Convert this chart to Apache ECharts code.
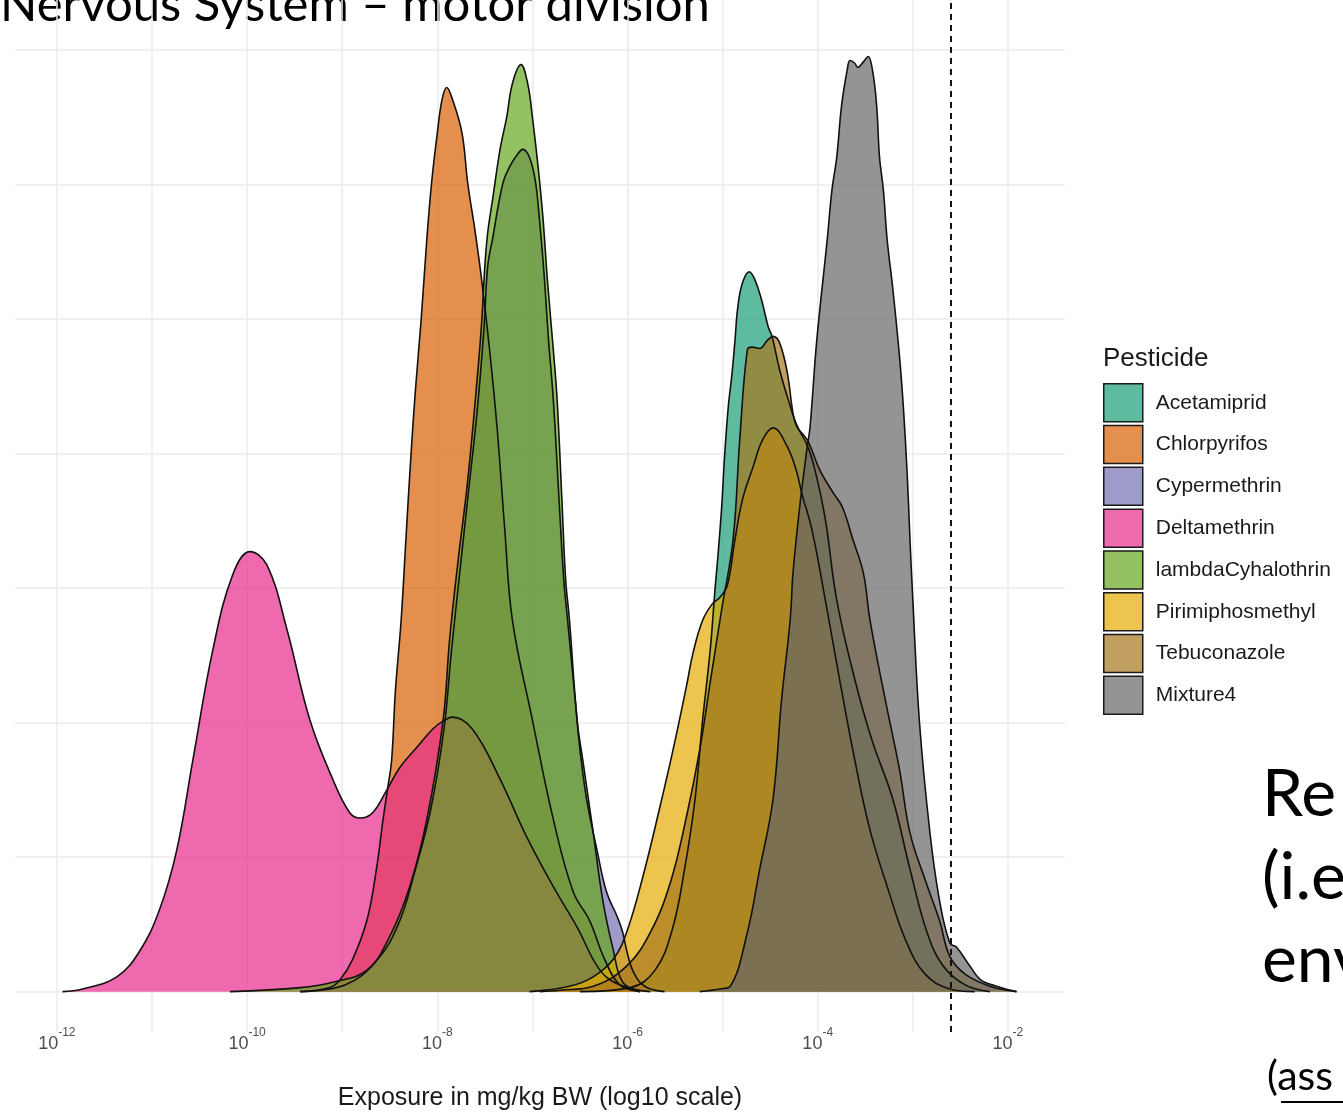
<!DOCTYPE html>
<html>
<head>
<meta charset="utf-8">
<title>Nervous System – motor division</title>
<script src="https://cdn.jsdelivr.net/npm/echarts@6/dist/echarts.min.js"></script>
<style>
html, body { margin: 0; padding: 0; background: #fff; }
#main { width: 1343px; height: 1112px; }
</style>
</head>
<body>
<div id="main"></div>
<script>
// legend / drawing order
var pesticides = ['Acetamiprid', 'Chlorpyrifos', 'Cypermethrin', 'Deltamethrin',
	'lambdaCyhalothrin', 'Pirimiphosmethyl', 'Tebuconazole', 'Mixture4'];

// density curves, [log10 exposure (mg/kg BW), density]
var acetamiprid = [[-6.50,0],[-5.97,0.03],[-5.71,0.16],[-5.53,0.46],[-5.40,0.91],[-5.29,1.43],[-5.21,2.02],[-5.13,2.54],[-5.08,2.99],[-5.05,3.23],[-5.01,3.60],[-4.98,3.97],[-4.94,4.35],[-4.90,4.60],[-4.87,4.84],[-4.84,5.09],[-4.79,5.27],[-4.72,5.35],[-4.66,5.29],[-4.59,5.14],[-4.52,4.94],[-4.48,4.87],[-4.40,4.62],[-4.31,4.40],[-4.22,4.21],[-4.11,4.06],[-4.03,3.88],[-3.92,3.51],[-3.80,2.91],[-3.61,2.32],[-3.43,1.87],[-3.21,1.43],[-3.03,0.91],[-2.85,0.44],[-2.68,0.19],[-2.45,0.05],[-2.19,0]];
var chlorpyrifos = [[-9.44,0],[-9.13,0.03],[-9.02,0.09],[-8.89,0.24],[-8.74,0.53],[-8.64,0.91],[-8.57,1.28],[-8.52,1.52],[-8.48,1.72],[-8.44,2.24],[-8.38,2.76],[-8.33,3.36],[-8.28,3.95],[-8.23,4.47],[-8.17,4.99],[-8.11,5.59],[-8.06,6.01],[-8.00,6.38],[-7.95,6.63],[-7.90,6.72],[-7.84,6.63],[-7.74,6.38],[-7.68,6.01],[-7.60,5.64],[-7.53,5.27],[-7.45,4.77],[-7.37,4.18],[-7.29,3.43],[-7.21,2.76],[-7.00,2.02],[-6.78,1.28],[-6.57,0.74],[-6.40,0.53],[-6.24,0.24],[-6.08,0.05],[-5.87,0]];
var cypermethrin = [[-9.44,0],[-8.97,0.05],[-8.65,0.22],[-8.41,0.50],[-8.23,0.91],[-8.07,1.35],[-7.93,1.95],[-7.85,2.54],[-7.76,3.14],[-7.67,3.73],[-7.58,4.32],[-7.51,4.92],[-7.47,5.39],[-7.42,5.59],[-7.31,6.01],[-7.24,6.13],[-7.16,6.22],[-7.10,6.26],[-7.03,6.20],[-6.97,6.03],[-6.93,5.77],[-6.88,5.36],[-6.83,4.84],[-6.78,4.40],[-6.72,3.66],[-6.67,3.06],[-6.63,2.76],[-6.55,2.17],[-6.50,1.80],[-6.43,1.43],[-6.32,1.05],[-6.22,0.74],[-6.11,0.56],[-6.05,0.44],[-6.01,0.31],[-5.94,0.15],[-5.82,0.04],[-5.61,0]];
var deltamethrin = [[-11.94,0],[-11.73,0.02],[-11.37,0.11],[-11.13,0.30],[-10.92,0.61],[-10.74,1.05],[-10.57,1.72],[-10.36,2.54],[-10.15,3.10],[-9.97,3.27],[-9.79,3.17],[-9.58,2.69],[-9.34,2.02],[-9.10,1.58],[-8.92,1.33],[-8.81,1.29],[-8.68,1.33],[-8.53,1.50],[-8.39,1.67],[-8.21,1.82],[-8.05,1.95],[-7.94,2.01],[-7.84,2.04],[-7.63,1.95],[-7.34,1.58],[-7.06,1.15],[-6.78,0.78],[-6.53,0.48],[-6.29,0.16],[-6.08,0.05],[-5.76,0]];
var lambdaCyhalothrin = [[-10.18,0],[-9.44,0.03],[-9.10,0.07],[-8.74,0.16],[-8.50,0.41],[-8.29,0.78],[-8.11,1.28],[-7.94,2.01],[-7.87,2.62],[-7.78,3.21],[-7.68,3.80],[-7.57,4.64],[-7.53,5.01],[-7.50,5.39],[-7.47,5.64],[-7.42,5.88],[-7.34,6.26],[-7.27,6.50],[-7.21,6.75],[-7.12,6.89],[-7.05,6.75],[-7.00,6.50],[-6.94,6.13],[-6.89,5.76],[-6.84,5.27],[-6.78,4.77],[-6.74,4.40],[-6.69,3.66],[-6.65,3.06],[-6.61,2.76],[-6.53,2.02],[-6.47,1.72],[-6.36,1.18],[-6.26,0.68],[-6.15,0.31],[-6.05,0.07],[-5.87,0]];
var pirimiphosmethyl = [[-7.03,0],[-6.61,0.04],[-6.36,0.11],[-6.15,0.24],[-6.01,0.44],[-5.84,0.85],[-5.66,1.37],[-5.52,1.80],[-5.38,2.27],[-5.31,2.52],[-5.21,2.76],[-5.11,2.88],[-5.03,2.93],[-4.95,3.02],[-4.87,3.36],[-4.79,3.66],[-4.68,3.90],[-4.58,4.10],[-4.47,4.19],[-4.32,4.05],[-4.22,3.86],[-4.17,3.71],[-4.06,3.43],[-3.92,2.91],[-3.77,2.32],[-3.61,1.72],[-3.45,1.20],[-3.26,0.76],[-3.08,0.39],[-2.87,0.13],[-2.61,0.02],[-2.35,0]];
var tebuconazole = [[-6.92,0],[-6.71,0.01],[-6.36,0.04],[-6.01,0.19],[-5.76,0.44],[-5.55,0.81],[-5.38,1.30],[-5.24,1.80],[-5.13,2.30],[-5.01,2.84],[-4.89,3.36],[-4.82,4.10],[-4.74,4.77],[-4.69,4.79],[-4.61,4.78],[-4.53,4.84],[-4.47,4.87],[-4.40,4.82],[-4.32,4.60],[-4.26,4.30],[-4.22,4.20],[-4.11,4.10],[-3.98,3.88],[-3.84,3.71],[-3.74,3.60],[-3.63,3.36],[-3.52,3.11],[-3.45,2.76],[-3.29,2.17],[-3.14,1.65],[-3.03,1.18],[-2.87,0.83],[-2.72,0.53],[-2.61,0.26],[-2.45,0.13],[-2.19,0.04],[-1.91,0]];
var mixture4 = [[-5.24,0],[-5.03,0.02],[-4.92,0.04],[-4.74,0.44],[-4.61,0.91],[-4.47,1.43],[-4.38,2.17],[-4.29,2.76],[-4.26,3.11],[-4.19,3.60],[-4.11,4.05],[-4.08,4.20],[-4.01,4.84],[-3.90,5.59],[-3.85,5.96],[-3.80,6.20],[-3.75,6.58],[-3.69,6.85],[-3.66,6.92],[-3.61,6.90],[-3.58,6.87],[-3.52,6.91],[-3.47,6.95],[-3.42,6.83],[-3.38,6.58],[-3.35,6.20],[-3.31,5.96],[-3.27,5.59],[-3.21,5.22],[-3.14,4.72],[-3.10,4.35],[-3.06,3.86],[-3.03,3.36],[-3.00,2.91],[-2.93,2.00],[-2.82,1.18],[-2.72,0.68],[-2.61,0.36],[-2.54,0.33],[-2.40,0.19],[-2.29,0.09],[-2.12,0.04],[-1.91,0]];

// axis ticks (log10 exponents) and the dashed limit
var xGridTicks = [-12, -11, -10, -9, -8, -7, -6, -5, -4, -3, -2];
var xLabelTicks = [-12, -10, -8, -6, -4, -2];
var yGridTicks = [0, 1, 2, 3, 4, 5, 6, 7];
var limitExponent = -2.6;

// Dark2 with alpha 0.7
var fills = ['rgba(27,158,119,0.7)', 'rgba(217,95,2,0.7)', 'rgba(117,112,179,0.7)', 'rgba(231,41,138,0.7)',
	'rgba(102,166,30,0.7)', 'rgba(230,171,2,0.7)', 'rgba(166,118,29,0.7)', 'rgba(102,102,102,0.7)'];

var curves = [acetamiprid, chlorpyrifos, cypermethrin, deltamethrin,
	lambdaCyhalothrin, pirimiphosmethyl, tebuconazole, mixture4];

var sans = '"Liberation Sans", Arial, sans-serif';
var slide = 'Lato, "Open Sans", sans-serif';

var series = pesticides.map(function(name, i) {
	return {
		name: name,
		type: 'line',
		data: curves[i],
		symbol: 'none',
		smooth: 0.4,
		color: fills[i],
		itemStyle: { color: fills[i] },
		lineStyle: { color: '#111', width: 1.6 },
		areaStyle: { color: fills[i], opacity: 1 }
	};
});

// dashed reference line on top
series[series.length - 1].markLine = {
	silent: true,
	symbol: 'none',
	label: { show: false },
	lineStyle: { color: '#111', width: 2, type: [6, 5] },
	data: [{ xAxis: limitExponent }]
};

var option = {
	animation: false,
	backgroundColor: '#fff',
	grid: { left: 15, right: 278, top: 0, bottom: 80, containLabel: false, outerBoundsMode: 'none' },
	xAxis: {
		type: 'value',
		min: -12.44,
		max: -1.40,
		name: 'Exposure in mg/kg BW (log10 scale)',
		nameLocation: 'middle',
		nameGap: 54,
		nameTextStyle: { fontFamily: sans, fontSize: 25, color: '#1a1a1a' },
		axisLine: { show: false, onZero: false },
		axisTick: { show: false, customValues: xGridTicks },
		splitLine: { show: true, lineStyle: { color: '#ebebeb', width: 1.5 } },
		axisLabel: {
			customValues: xLabelTicks,
			margin: -5,
			color: '#4d4d4d',
			fontFamily: sans,
			formatter: function(v) { return '{b|10}{s|' + v + '}'; },
			rich: {
				b: { fontFamily: sans, fontSize: 18, color: '#4d4d4d', lineHeight: 26, verticalAlign: 'bottom' },
				s: { fontFamily: sans, fontSize: 12, color: '#4d4d4d', lineHeight: 10, verticalAlign: 'top' }
			}
		}
	},
	yAxis: {
		type: 'value',
		min: -0.3,
		max: 7.37,
		axisLine: { show: false },
		axisLabel: { show: false },
		axisTick: { show: false, customValues: yGridTicks },
		splitLine: { show: true, lineStyle: { color: '#ebebeb', width: 1.5 } }
	},
	legend: {
		orient: 'vertical',
		left: 1103,
		top: 383,
		padding: 0,
		icon: 'rect',
		itemWidth: 39,
		itemHeight: 38,
		itemGap: 2.3,
		itemStyle: { borderColor: '#1a1a1a', borderWidth: 1.5 },
		textStyle: { fontFamily: sans, fontSize: 21, color: '#1a1a1a', padding: [0, 0, 0, 8] },
		data: pesticides
	},
	graphic: [
		{ type: 'text', left: 1103, top: 346, style: { text: 'Pesticide', font: '26px ' + sans, fill: '#1a1a1a' } },
		{ type: 'text', x: 0, y: 5, style: { text: 'Nervous System – motor division', font: '49px ' + slide, fill: '#000', verticalAlign: 'middle' } },
		{ type: 'text', x: 1262, y: 795, style: { text: 'Re', font: '66px ' + slide, fill: '#000', verticalAlign: 'middle' } },
		{ type: 'text', x: 1262, y: 878, style: { text: '(i.e', font: '66px ' + slide, fill: '#000', verticalAlign: 'middle' } },
		{ type: 'text', x: 1262, y: 961, style: { text: 'env', font: '66px ' + slide, fill: '#000', verticalAlign: 'middle' } },
		{ type: 'text', x: 1267, y: 1077, style: { text: '(ass', font: '41px ' + slide, fill: '#000', verticalAlign: 'middle' } },
		{ type: 'line', shape: { x1: 1281, y1: 1102, x2: 1343, y2: 1102 }, style: { stroke: '#000', lineWidth: 2 } }
	],
	series: series
};

var myChart = echarts.init(document.getElementById('main'));
myChart.setOption(option);
</script>
</body>
</html>
